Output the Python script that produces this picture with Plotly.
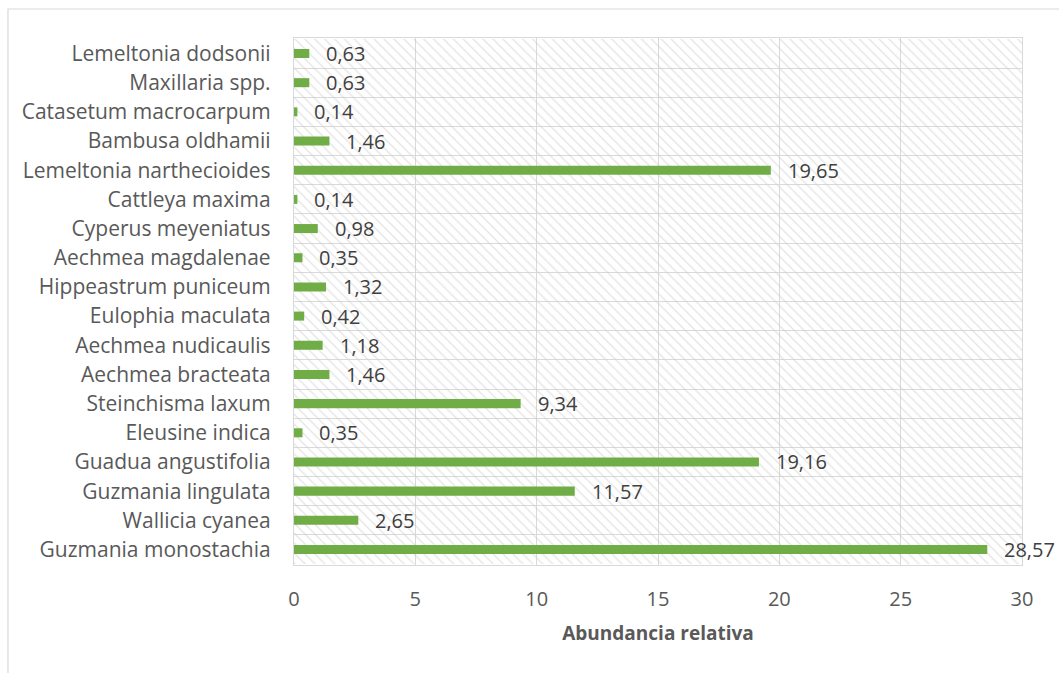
import plotly.graph_objects as go

# Species, listed from the bottom row upward
especies = [
    "Guzmania monostachia", "Wallicia cyanea", "Guzmania lingulata",
    "Guadua angustifolia", "Eleusine indica", "Steinchisma laxum",
    "Aechmea bracteata", "Aechmea nudicaulis", "Eulophia maculata",
    "Hippeastrum puniceum", "Aechmea magdalenae", "Cyperus meyeniatus",
    "Cattleya maxima", "Lemeltonia narthecioides", "Bambusa oldhamii",
    "Catasetum macrocarpum", "Maxillaria spp.", "Lemeltonia dodsonii",
]
abundancia = [
    28.57, 2.65, 11.57, 19.16, 0.35, 9.34, 1.46, 1.18, 0.42,
    1.32, 0.35, 0.98, 0.14, 19.65, 1.46, 0.14, 0.63, 0.63,
]
x_max = 30
x_ticks = [0, 5, 10, 15, 20, 25, 30]

FONT = "Open Sans"
GRID = "#D9D9D9"

fig = go.Figure()

# Hatched plot-area fill (transparent so the grid shows through)
fig.add_trace(go.Bar(
    y=especies, x=[x_max] * len(especies), orientation="h", width=1,
    marker=dict(color="rgba(0,0,0,0)", line=dict(width=0),
                pattern=dict(shape="\\", fgcolor="#CCCCCC", size=7, solidity=0.2)),
    hoverinfo="skip", showlegend=False,
))

# Abundance bars
fig.add_trace(go.Bar(
    y=especies, x=abundancia, orientation="h", width=0.31,
    marker=dict(color="#70AD47", line=dict(width=0)),
    showlegend=False,
))

# Value labels with decimal comma
for sp, v in zip(especies, abundancia):
    fig.add_annotation(
        x=v, y=sp, text=f"{v:.2f}".replace(".", ","), showarrow=False,
        xanchor="left", xshift=15, font=dict(family=FONT, size=20, color="#404040"),
    )

# Outer chart frame
fig.add_shape(type="rect", xref="paper", yref="paper",
              x0=-0.3929, x1=1.2, y0=-0.5, y1=1.055,
              line=dict(color=GRID, width=1.2), fillcolor="rgba(0,0,0,0)", layer="below")

fig.update_layout(
    width=1059, height=673,
    margin=dict(l=294, r=37, t=38, b=108),
    barmode="overlay",
    plot_bgcolor="white", paper_bgcolor="white",
    separators=",.",
    font=dict(family=FONT, color="#595959"),
    xaxis=dict(
        range=[0, x_max], tickvals=x_ticks, showgrid=True, gridcolor=GRID, gridwidth=1.3,
        zeroline=False, showline=True, linecolor=GRID, mirror=True, linewidth=1.3,
        tickfont=dict(family=FONT, size=20, color="#595959"), ticks="",
        ticklabelstandoff=16,
        title=dict(text="<b>Abundancia relativa</b>", standoff=15,
                   font=dict(family=FONT, size=19, color="#595959")),
        fixedrange=True,
    ),
    yaxis=dict(
        type="category", categoryorder="array", categoryarray=especies,
        tickson="boundaries", showgrid=True, gridcolor=GRID, gridwidth=1.3,
        showline=True, linecolor=GRID, linewidth=1.3, mirror=True, ticks="",
        tickfont=dict(family=FONT, size=21, color="#595959"),
        ticklabelstandoff=18, fixedrange=True,
    ),
)

fig.write_html("out.html")
